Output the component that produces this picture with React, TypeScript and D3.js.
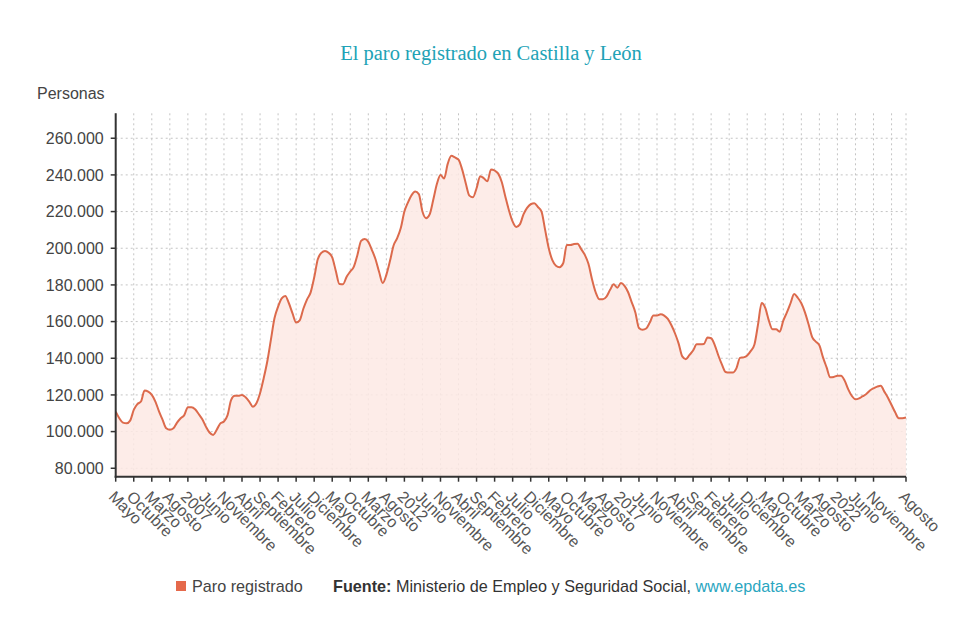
import * as d3 from "d3";

// Paro registrado, Castilla y León, monthly from May 2005 to August 2023 (persons)
const startYear = 2005;
const startMonth = 4; // May (0-based)

const monthNames = [
  "Enero", "Febrero", "Marzo", "Abril", "Mayo", "Junio",
  "Julio", "Agosto", "Septiembre", "Octubre", "Noviembre", "Diciembre",
];

const paro = [
  110900, 107300, 104900, 104500, 106000, 111800, 115000, 116400, 122400, 121800,
  120000, 116400, 111000, 106400, 101800, 101000, 101800, 104900, 107300, 109000,
  113300, 113300, 112200, 109600, 106700, 102700, 99500, 98200, 101000, 104500,
  105500, 109000, 117300, 119500, 119500, 120000, 118700, 116400, 113600, 115500,
  120900, 129000, 138200, 150000, 161800, 168200, 172700, 174000, 170000, 164500,
  159500, 160700, 167000, 172000, 175800, 184000, 194000, 197500, 198500, 197500,
  195000, 187600, 180500, 180400, 184500, 187300, 190000, 196500, 204000, 205000,
  203500, 199000, 194000, 187000, 181000, 185500, 193000, 201500, 205500, 211000,
  220000, 225000, 229000, 230900, 229500, 220000, 216400, 218500, 226400, 235000,
  240000, 238000, 246000, 250400, 249500, 248300, 243000, 235500, 228700, 227800,
  232700, 239300, 238200, 236500, 243000, 242400, 240700, 236000, 228000, 220500,
  214500, 211600, 213000, 218500, 222000, 224000, 224500, 222500, 220000, 210000,
  200000, 193500, 190500, 189700, 191800, 201800, 201800, 202300, 202500, 199500,
  196400, 191500, 183000, 176000, 172200, 172200, 173600, 177300, 180300, 178500,
  181000, 179500, 176000, 170500, 165000, 156500, 155500, 156200, 159500, 163300,
  163300, 164000, 163300, 161500, 158000, 153500, 148000, 141000, 139500, 141800,
  144200, 147600, 147600, 147800, 151300, 150900, 147200, 141500, 136500, 132500,
  132200, 132200, 134500, 140200, 140500, 141500, 144000, 147500, 158500, 170200,
  167500, 160500, 155800, 155800, 154500, 160500, 165000, 170000, 175000, 173000,
  170000, 165000, 158500, 151500, 149100, 147000, 140500, 135000, 129600, 129800,
  130400, 130400, 127800, 123000, 119400, 117600, 118100, 119300, 120500, 122400,
  123600, 124500, 125000, 121800, 118500, 114500, 110500, 107300, 107300, 107700,
];

const yTicks = [80000, 100000, 120000, 140000, 160000, 180000, 200000, 220000, 240000, 260000];

const every = 5;
const lastIndex = paro.length - 1;
// grid every 5 months up to the end; labels skip the one crowding the last month
const gridIndexes = d3.range(0, lastIndex, every).concat([lastIndex]);
const tickIndexes = d3.range(0, lastIndex - every, every).concat([lastIndex]);

const labelFor = (i: number) => {
  const total = startMonth + i;
  const month = total % 12;
  const year = startYear + Math.floor(total / 12);
  return month === 0 ? String(year) : monthNames[month];
};

const fmt = (v: number) => d3.format(",")(v).replace(/,/g, ".");

const W = 980;
const H = 623;
const sans = "'Liberation Sans', Arial, sans-serif";

export default function App() {
  const x = d3.scaleLinear().domain([0, lastIndex]).range([115.7, 906]);
  const y = d3.scaleLinear().domain([75400, 273600]).range([476.7, 113.3]);
  const [x0, x1] = x.range();
  const [yBottom, yTop] = y.range();

  const line = d3
    .line<number>()
    .x((_d, i) => x(i))
    .y(d => y(d))
    .curve(d3.curveMonotoneX);

  const area = d3
    .area<number>()
    .x((_d, i) => x(i))
    .y0(yBottom)
    .y1(d => y(d))
    .curve(d3.curveMonotoneX);

  return (
    <svg
      width={W}
      height={H}
      style={{ position: "absolute", left: 0, top: 0, background: "#fff" }}
      fontFamily={sans}
    >
      <text
        x={491}
        y={60}
        textAnchor="middle"
        fontFamily="'Liberation Serif', 'Times New Roman', serif"
        fontSize={20.5}
        fill="#21a2b6"
      >
        El paro registrado en Castilla y León
      </text>
      <text x={37} y={99} fontSize={16} fill="#444">
        Personas
      </text>

      {/* grid */}
      <g stroke="#c4c4c4" strokeWidth={1} strokeDasharray="2,3">
        {yTicks.map(t => (
          <line key={t} x1={x0} x2={x1} y1={y(t)} y2={y(t)} />
        ))}
        {gridIndexes.map(i => (
          <line key={i} x1={x(i)} x2={x(i)} y1={yTop} y2={yBottom} />
        ))}
      </g>

      <path d={area(paro) ?? ""} fill="#fde9e4" fillOpacity={0.85} />
      <path d={line(paro) ?? ""} fill="none" stroke="#dc6a4c" strokeWidth={2} />

      {/* y axis */}
      <line x1={x0} x2={x0} y1={yTop} y2={yBottom + 1} stroke="#333" strokeWidth={2} />
      {yTicks.map(t => (
        <g key={t} transform={`translate(0,${y(t)})`}>
          <line x1={x0 - 5} x2={x0} stroke="#333" strokeWidth={1.5} />
          <text x={x0 - 12} dy="0.36em" textAnchor="end" fontSize={16} fill="#444">
            {fmt(t)}
          </text>
        </g>
      ))}

      {/* x axis */}
      <line x1={x0 - 1} x2={x1} y1={yBottom} y2={yBottom} stroke="#333" strokeWidth={2} />
      {tickIndexes.map(i => (
        <g key={i} transform={`translate(${x(i)},${yBottom})`}>
          <line y1={0} y2={5} stroke="#333" strokeWidth={1.5} />
          <text transform="translate(-8,21) rotate(45)" fontSize={16} fill="#555">
            {labelFor(i)}
          </text>
        </g>
      ))}

      {/* legend / source */}
      <rect x={176} y={581} width={10} height={10} fill="#e5694b" />
      <text x={192} y={592} fontSize={16.2} fill="#444">
        Paro registrado
      </text>
      <text x={333} y={592} fontSize={16.2} fill="#333">
        <tspan fontWeight="bold">Fuente:</tspan>
        <tspan> Ministerio de Empleo y Seguridad Social, </tspan>
        <tspan fill="#2aa6bf">www.epdata.es</tspan>
      </text>
    </svg>
  );
}
